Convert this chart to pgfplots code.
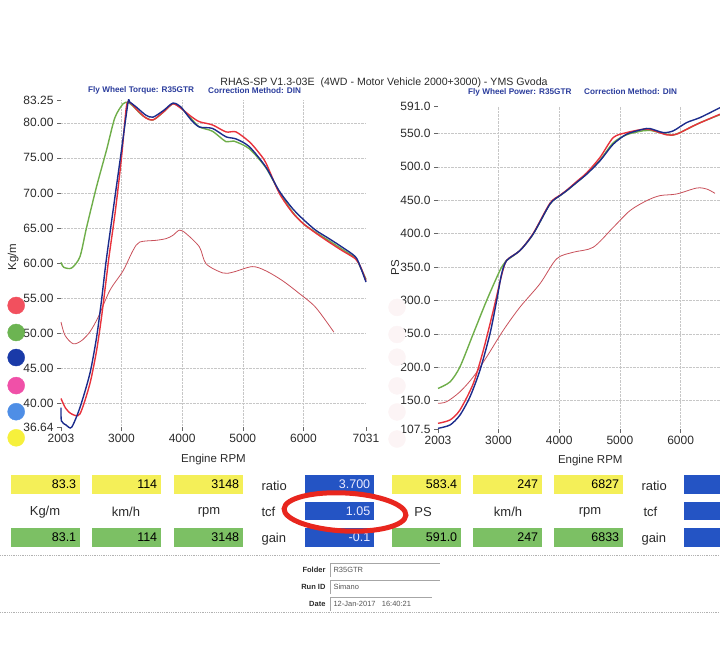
\documentclass[border=0pt]{standalone}
\usepackage{pgfplots}
\pgfplotsset{compat=1.18}
\usepackage{fontspec}
\setmainfont{Liberation Sans}
\definecolor{cRed}{HTML}{E8323C}
\definecolor{cGreen}{HTML}{6FAE4A}
\definecolor{cBlue}{HTML}{1C2C8C}
\definecolor{cCrim}{HTML}{C8505A}
\definecolor{boxY}{HTML}{F4EF58}
\definecolor{boxG}{HTML}{7CC064}
\definecolor{boxB}{HTML}{2454C4}
\definecolor{hdrBlue}{HTML}{2A3C9C}
\definecolor{txt}{HTML}{2A2A2A}
\definecolor{dRed}{HTML}{F2505E}
\definecolor{dGreen}{HTML}{6CB452}
\definecolor{dBlue}{HTML}{1A3AA8}
\definecolor{dPink}{HTML}{F050A8}
\definecolor{dLBlue}{HTML}{4E8EE6}
\definecolor{dYellow}{HTML}{F6F03C}
\definecolor{dFaint}{HTML}{FCF4F5}
\definecolor{ringRed}{HTML}{E8261E}
\pgfplotsset{
  /pgf/number format/assume math mode=true,
  dyno/.style={
    scale only axis, clip=false,
    axis line style={draw=none},
    tick align=outside, xtick pos=bottom, ytick pos=left,
    major tick length=4pt,
    tick style={black!60, thin},
    grid=major, major grid style={densely dotted, black!22},
    ticklabel style={font=\fontsize{12}{13}\selectfont, text=txt},
    label style={font=\fontsize{11.5}{12}\selectfont, text=txt},
    xlabel style={yshift=4pt},
    xmin=2003,
    xtick={3000,4000,5000,6000},
    extra x tick style={grid=none},
    extra y tick style={grid=none},
    xticklabel={\pgfmathprintnumber[fixed,precision=0,1000 sep={}]{\tick}},
    xlabel={Engine RPM},
  },
  main/.style={smooth, tension=0.45, line width=1.4pt},
}
\begin{document}
\begin{tikzpicture}
\path[use as bounding box] (0pt,0pt) rectangle (720pt,652pt);

% ---------------- header ----------------
\node[font=\fontsize{10.6}{12}\selectfont, text=txt] at (384pt,569pt) {RHAS-SP V1.3-03E\ \ (4WD - Motor Vehicle 2000+3000) - YMS Gvoda};
\tikzset{hdr/.style={font=\bfseries\fontsize{8.2}{9}\selectfont, text=hdrBlue, anchor=west, inner sep=0pt}}
\node[hdr] at (88pt,562pt) {Fly Wheel Torque: R35GTR};
\node[hdr] at (208pt,561pt) {Correction Method: DIN};
\node[hdr] at (468pt,560pt) {Fly Wheel Power: R35GTR};
\node[hdr] at (584pt,560pt) {Correction Method: DIN};

% ---------------- torque ----------------
\begin{axis}[dyno, at={(61pt,225pt)}, anchor=south west, width=305pt, height=327pt,
  xmax=7031, extra x ticks={2003,7031},
  ymin=36.64, ymax=83.25,
  ytick={40,45,...,80}, extra y ticks={36.64,83.25},
  yticklabel={\pgfmathprintnumber[fixed,zerofill,precision=2]{\tick}},
  ylabel={Kg/m}, ylabel style={at={(axis description cs:-0.157,0.52)}, anchor=center},
]
\addplot[only marks, mark=*, mark size=8.5pt, dRed] coordinates {(1264,53.96)};
\addplot[only marks, mark=*, mark size=8.5pt, dGreen] coordinates {(1264,50.11)};
\addplot[only marks, mark=*, mark size=8.5pt, dBlue] coordinates {(1264,46.54)};
\addplot[only marks, mark=*, mark size=8.5pt, dPink] coordinates {(1264,42.54)};
\addplot[only marks, mark=*, mark size=8.5pt, dLBlue] coordinates {(1264,38.82)};
\addplot[only marks, mark=*, mark size=8.5pt, dYellow] coordinates {(1264,35.10)};
\addplot[smooth, tension=0.5, line width=0.8pt, cCrim] coordinates {
(2003,51.6)(2069,49.7)(2205,48.5)(2342,48.95)(2479,50.2)(2616,52.3)(2808,56.1)
(3026,58.9)(3190,61.8)(3300,63.0)(3574,63.25)(3738,63.5)(3846,63.95)(3957,64.7)
(4066,64.2)(4285,62.3)(4395,59.9)(4669,58.6)(4833,58.7)(5156,59.5)(5380,58.9)
(5654,57.5)(5927,55.7)(6200,53.7)(6502,50.15)};
\addplot[main, cGreen] coordinates {
(2003,60.1)(2049,59.4)(2178,59.3)(2315,60.9)(2425,65.1)(2589,70.9)(2753,76.1)
(2890,80.7)(3026,82.7)(3108,82.9)(3200,82.3)(3350,81.0)(3519,80.4)(3700,81.6)
(3846,82.7)(3974,82.2)(4149,80.6)(4285,79.4)(4499,78.8)(4724,77.3)(4850,77.4)
(5107,76.3)(5380,73.6)(5599,70.2)(5818,67.3)(6000,65.6)(6200,64.4)(6420,63.2)
(6634,62.0)(6858,60.7)(6945,59.3)(7031,57.7)};
\addplot[main, cRed] coordinates {
(2003,40.7)(2080,39.3)(2178,38.5)(2315,38.5)(2479,42.8)(2589,47.5)(2671,52.3)
(2753,58.0)(2796,61.0)(2900,67.5)(3000,75.0)(3081,82.3)(3136,82.9)(3250,81.9)
(3400,80.7)(3519,80.4)(3700,81.6)(3846,82.7)(3974,82.1)(4149,80.9)(4285,80.15)
(4499,79.7)(4724,78.7)(4888,78.7)(5107,77.3)(5250,75.9)(5380,74.3)(5599,70.0)
(5818,67.2)(6000,65.6)(6200,64.3)(6420,63.0)(6634,61.8)(6858,60.6)(6945,59.4)(7031,57.5)};
\addplot[main, cBlue] coordinates {
(2003,39.4)(2010,37.5)(2090,36.9)(2178,36.6)(2315,39.4)(2479,44.25)(2589,49.4)
(2671,54.7)(2742,59.95)(2820,64.9)(2900,69.9)(3000,76.1)(3108,82.9)(3136,82.95)
(3250,82.2)(3400,81.1)(3519,80.8)(3700,81.8)(3846,82.8)(3974,82.3)(4149,80.4)
(4285,79.4)(4499,79.2)(4724,78.0)(4888,77.7)(5107,76.6)(5380,73.7)(5599,70.3)
(5818,67.8)(6000,66.2)(6200,64.7)(6420,63.5)(6634,62.3)(6858,60.9)(6945,59.3)(7031,57.3)};
\end{axis}

% ---------------- power (cut at the right edge of the sheet) ----------------
\begin{axis}[dyno, at={(438pt,223pt)}, anchor=south west, width=282pt, height=323pt,
  xmax=6649, extra x ticks={2003},
  ymin=107.5, ymax=591,
  ytick={150,200,...,550}, extra y ticks={107.5,591},
  yticklabel={\pgfmathprintnumber[fixed,zerofill,precision=1]{\tick}},
  ylabel={PS}, ylabel style={at={(axis description cs:-0.152,0.5)}, anchor=center},
  xlabel style={at={(ticklabel cs:0.54)}, yshift=1pt},
]
\addplot[only marks, mark=*, mark size=8.5pt, dFaint] coordinates {
(1328,289.5)(1328,249)(1328,215)(1328,172)(1328,133)(1328,92.5)};
\addplot[smooth, tension=0.5, line width=0.8pt, cCrim] coordinates {
(2003,145.9)(2146,148.4)(2365,163.2)(2585,185.6)(2805,215.4)(3079,255.3)(3354,290)
(3683,325)(3958,362.3)(4232,372.1)(4561,379.6)(4891,409.4)(5166,434.4)(5441,449.3)
(5660,456.8)(5935,459.3)(6265,468.2)(6430,466.7)(6567,460.2)};
\addplot[main, cGreen] coordinates {
(2003,168.2)(2201,178)(2365,200.5)(2585,250.3)(2805,300)(3024,345)(3107,357)
(3135,360)(3354,374.7)(3573,399.6)(3848,444.3)(4013,456.8)(4123,464.2)(4288,476.6)
(4453,489.5)(4672,510)(4891,536)(5111,548)(5385,554)(5495,554.5)(5715,550)
(5879,547.5)(6100,556)(6319,566)(6649,578)};
\addplot[main, cRed] coordinates {
(2003,116)(2201,121)(2365,136)(2585,175.7)(2750,225.4)(2914,285)(3052,338)
(3135,360)(3354,374.7)(3573,400.5)(3848,445.5)(4013,457.5)(4123,465)(4288,478)
(4453,491)(4672,514)(4891,543.8)(5111,551.2)(5385,556.3)(5495,556)(5770,547.8)
(5935,548.8)(6210,561.3)(6649,578.7)};
\addplot[main, cBlue] coordinates {
(2003,108.5)(2201,113.5)(2365,128.4)(2530,155.7)(2695,195.6)(2860,250.3)(2970,300)
(3052,340)(3135,359.8)(3354,374.7)(3573,399.6)(3848,444.3)(4013,456.8)(4123,464.2)
(4288,476.6)(4453,489)(4672,509)(4891,533.9)(5111,548.8)(5385,556.3)(5495,557.2)
(5715,551.2)(5879,553.8)(6100,566.2)(6319,573.6)(6649,588.5)};
\end{axis}

% ---------------- readout table ----------------
\tikzset{
  vbox/.style={minimum height=19pt, text width=61pt, align=right, inner xsep=4pt, inner ysep=0pt,
    font=\fontsize{12.5}{13}\selectfont, anchor=west},
  lab/.style={font=\fontsize{13}{14}\selectfont, text=txt},
}
\node[vbox, fill=boxY] at (11pt,167.5pt) {83.3};
\node[vbox, fill=boxY] at (92pt,167.5pt) {114};
\node[vbox, fill=boxY] at (174pt,167.5pt) {3148};
\node[lab, anchor=west] at (258pt,166pt) {ratio};
\node[vbox, fill=boxB, text=white!92!blue] at (305pt,167.5pt) {3.700};
\node[vbox, fill=boxY] at (392pt,167.5pt) {583.4};
\node[vbox, fill=boxY] at (473pt,167.5pt) {247};
\node[vbox, fill=boxY] at (554pt,167.5pt) {6827};
\node[lab, anchor=west] at (638pt,166pt) {ratio};
\fill[boxB] (684pt,158pt) rectangle (720pt,177pt);
\node[lab] at (45pt,140pt) {Kg/m};
\node[lab] at (126pt,140pt) {km/h};
\node[lab] at (209pt,140pt) {rpm};
\node[lab, anchor=west] at (258pt,140pt) {tcf};
\node[vbox, fill=boxB, text=white!92!blue, minimum height=18pt] at (305pt,141pt) {1.05};
\node[lab] at (423pt,140pt) {PS};
\node[lab] at (508pt,140pt) {km/h};
\node[lab] at (590pt,140pt) {rpm};
\node[lab, anchor=west] at (640pt,140pt) {tcf};
\fill[boxB] (684pt,132pt) rectangle (720pt,150pt);
\node[vbox, fill=boxG] at (11pt,114.5pt) {83.1};
\node[vbox, fill=boxG] at (92pt,114.5pt) {114};
\node[vbox, fill=boxG] at (174pt,114.5pt) {3148};
\node[lab, anchor=west] at (258pt,113pt) {gain};
\node[vbox, fill=boxB, text=white!92!blue] at (305pt,114.5pt) {-0.1};
\node[vbox, fill=boxG] at (392pt,114.5pt) {591.0};
\node[vbox, fill=boxG] at (473pt,114.5pt) {247};
\node[vbox, fill=boxG] at (554pt,114.5pt) {6833};
\node[lab, anchor=west] at (638pt,113pt) {gain};
\fill[boxB] (684pt,105pt) rectangle (720pt,124pt);

\draw[ringRed, line width=5pt, rotate around={-3:(345pt,140pt)}] (345pt,140pt) ellipse [x radius=61pt, y radius=19pt];

\draw[black!30, densely dotted, line width=0.8pt] (0pt,97pt) -- (720pt,97pt);
\draw[black!30, densely dotted, line width=0.8pt] (0pt,40pt) -- (720pt,40pt);

\tikzset{ilab/.style={font=\bfseries\fontsize{7.5}{8}\selectfont, text=txt, anchor=east},
         ival/.style={font=\fontsize{7.5}{8}\selectfont, text=txt!80, anchor=west}}
\draw[black!35, thin] (330pt,75pt) -- (330pt,89pt) -- (440pt,89pt);
\draw[black!35, thin] (330pt,58pt) -- (330pt,72pt) -- (440pt,72pt);
\draw[black!35, thin] (330pt,41pt) -- (330pt,55pt) -- (432pt,55pt);
\node[ilab] at (329pt,82pt) {Folder};
\node[ival] at (330pt,82pt) {R35GTR};
\node[ilab] at (329pt,65pt) {Run ID};
\node[ival] at (330pt,65pt) {Simano};
\node[ilab] at (329pt,48pt) {Date};
\node[ival] at (330pt,48pt) {12-Jan-2017\ \ \ 16:40:21};
\end{tikzpicture}
\end{document}
